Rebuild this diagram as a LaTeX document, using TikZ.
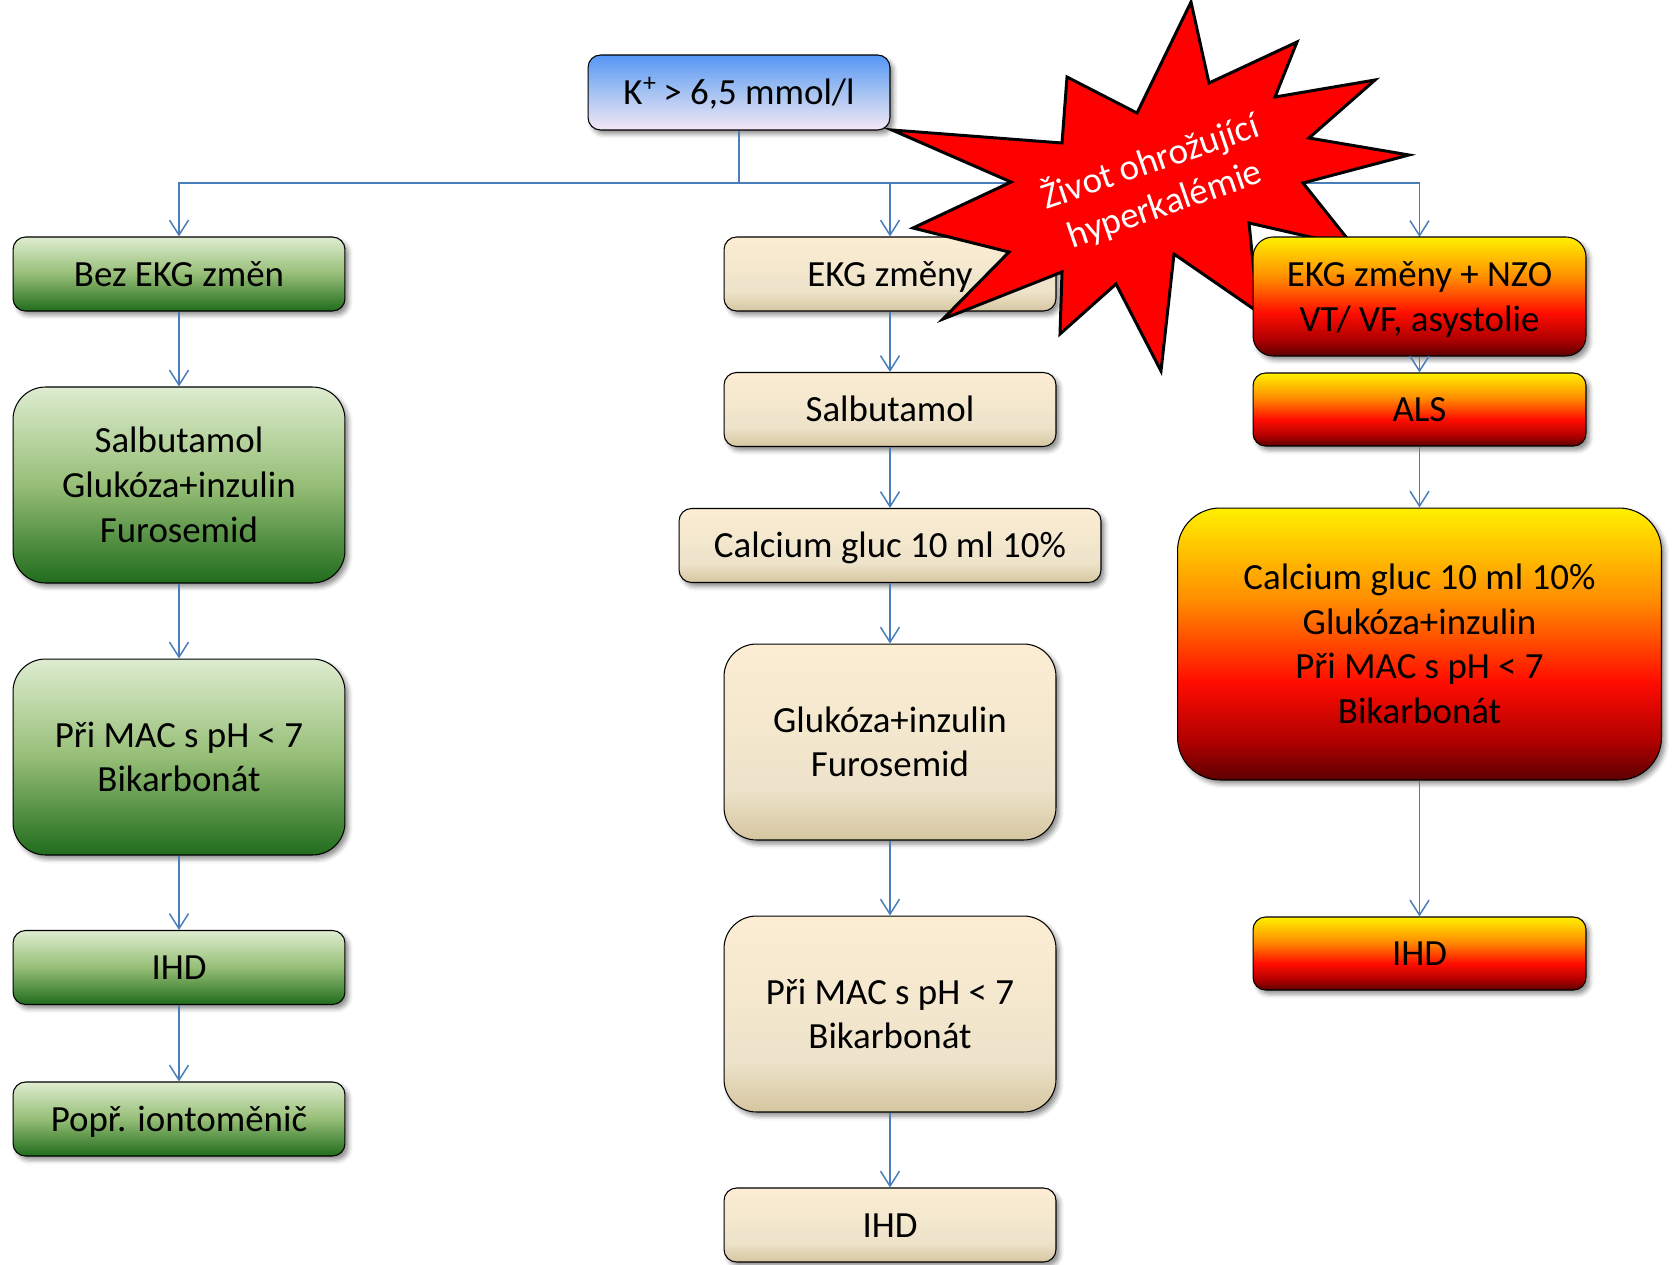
\documentclass[tikz,border=0pt]{standalone}
\usepackage{fontspec}
\setmainfont{Carlito}
\usetikzlibrary{arrows.meta,shadows.blur}

% colours
\definecolor{link}{RGB}{74,126,187}
\definecolor{g0}{RGB}{32,108,28}
\definecolor{g1}{RGB}{150,190,118}
\definecolor{g2}{RGB}{222,236,208}
\definecolor{b0}{RGB}{213,198,160}
\definecolor{b1}{RGB}{237,227,202}
\definecolor{b2}{RGB}{252,237,211}
\definecolor{u0}{RGB}{245,231,246}
\definecolor{u1}{RGB}{165,195,242}
\definecolor{u2}{RGB}{86,150,245}
\definecolor{f0}{RGB}{92,0,0}
\definecolor{f1}{RGB}{175,0,0}
\definecolor{f2}{RGB}{255,12,0}
\definecolor{f3}{RGB}{255,140,0}
\definecolor{f4}{RGB}{255,240,0}
\definecolor{starred}{RGB}{255,0,0}

% vertical fills (bottom = 25bp, top = 75bp)
\pgfdeclareverticalshading{greenfill}{100bp}{color(0bp)=(g0); color(25bp)=(g0); color(50bp)=(g1); color(75bp)=(g2); color(100bp)=(g2)}
\pgfdeclareverticalshading{beigefill}{100bp}{color(0bp)=(b0); color(25bp)=(b0); color(38bp)=(b1); color(75bp)=(b2); color(100bp)=(b2)}
\pgfdeclareverticalshading{bluefill}{100bp}{color(0bp)=(u0); color(25bp)=(u0); color(50bp)=(u1); color(75bp)=(u2); color(100bp)=(u2)}
\pgfdeclareverticalshading{firefill}{100bp}{color(0bp)=(f0); color(25bp)=(f0); color(32bp)=(f1); color(43bp)=(f2); color(58bp)=(f3); color(75bp)=(f4); color(100bp)=(f4)}

% every text line gets the same height and depth, so that lines sit
% slightly below the geometric middle of their box
\newcommand\lstrut{\rule[-5pt]{0pt}{24.2pt}}
\newcommand\tline[1]{\lstrut#1}

\begin{document}
\begin{tikzpicture}[x=0.02cm, y=-0.02cm,
  box/.style={draw=black, line width=0.6pt, inner sep=0pt, align=center,
    font=\fontsize{21}{25.5}\selectfont,
    blur shadow={shadow xshift=0.07cm, shadow yshift=-0.08cm, shadow blur radius=0.09cm, shadow opacity=45}},
  short/.style={minimum height=1.48cm, rounded corners=0.25cm},
  tall/.style={minimum height=3.92cm, rounded corners=0.65cm},
  gbox/.style={box, shading=greenfill, minimum width=6.64cm},
  bbox/.style={box, shading=beigefill},
  fbox/.style={box, shading=firefill},
  link/.style={draw=link, line width=0.85pt},
  flow/.style={link, -{Straight Barb[length=0.3cm, width=0.38cm, line width=0.85pt]}},
  starshape/.style={fill=starred, draw=black, line width=1.7pt, line join=miter}
]
\useasboundingbox (0,0) rectangle (1672,1264);

% root
\node[box, shading=bluefill, minimum width=6.04cm, minimum height=1.5cm, rounded corners=0.25cm]
  (top) at (739,92.5) {\tline{K\kern0.02em\textsuperscript{+}\kern-0.05em\ > 6,5 mmol/l}};

% left column
\node[gbox, short] (bez)  at (179,274)   {\tline{Bez EKG změn}};
\node[gbox, tall]  (sal1) at (179,485)   {\tline{Salbutamol}\\\tline{Glukóza+inzulin}\\\tline{Furosemid}};
\node[gbox, tall]  (mac1) at (179,757)   {\tline{Při MAC s pH < 7}\\\tline{Bikarbonát}};
\node[gbox, short] (ihd1) at (179,967.5) {\tline{IHD}};
\node[gbox, short] (popr) at (179,1119)  {\tline{Popř. iontoměnič}};

% middle column
\node[bbox, short, minimum width=6.64cm] (ekg)   at (890,274)    {\tline{EKG změny}};
\node[bbox, short, minimum width=6.64cm] (sal2)  at (890,409.5)  {\tline{Salbutamol}};
\node[bbox, short, minimum width=8.44cm] (calc2) at (890,545.5)  {\tline{Calcium gluc 10 ml 10\%}};
\node[bbox, tall,  minimum width=6.64cm] (glu2)  at (890,742)    {\tline{Glukóza+inzulin}\\\tline{Furosemid}};
\node[bbox, tall,  minimum width=6.64cm] (mac2)  at (890,1014)   {\tline{Při MAC s pH < 7}\\\tline{Bikarbonát}};
\node[bbox, short, minimum width=6.64cm] (ihd2)  at (890,1225)   {\tline{IHD}};

% distribution from the root
\coordinate (bus) at (739,183);
\draw[link] (top.south) -- (bus);
\draw[flow] (bus) -| (bez.north);
\draw[flow] (bus) -| (ekg.north);
\draw[flow] (bus) -| (1419.5,237);

% left and middle chains
\draw[flow] (bez.south)  -- (sal1.north);
\draw[flow] (sal1.south) -- (mac1.north);
\draw[flow] (mac1.south) -- (ihd1.north);
\draw[flow] (ihd1.south) -- (popr.north);
\draw[flow] (ekg.south)   -- (sal2.north);
\draw[flow] (sal2.south)  -- (calc2.north);
\draw[flow] (calc2.south) -- (glu2.north);
\draw[flow] (glu2.south)  -- (mac2.north);
\draw[flow] (mac2.south)  -- (ihd2.north);

% warning burst
\draw[starshape] (1191,2) -- (1209,83) -- (1297,42) -- (1275,97) -- (1375,80)
  -- (1309,138) -- (1409,155) -- (1303,183) -- (1354,247) -- (1249,223)
  -- (1258,312) -- (1174,254) -- (1161,371) -- (1116,284) -- (1060,334)
  -- (1062,272) -- (943,319) -- (1009,252) -- (913,228) -- (1011,182)
  -- (892,130) -- (1062,143) -- (1067,77) -- (1137,113) -- cycle;
\node[rotate=19, text=white, align=center, inner sep=0pt,
  font=\fontsize{21}{25.5}\selectfont] (alert) at (1157,182)
  {\tline{Život ohrožující}\\\tline{hyperkalémie}};

% right column
\node[fbox, minimum width=6.66cm, minimum height=2.38cm, rounded corners=0.4cm]
  (nzo) at (1419.5,296.5) {\tline{EKG změny + NZO}\\\tline{VT/ VF, asystolie}};
\node[fbox, short, minimum width=6.66cm, minimum height=1.46cm] (als) at (1419.5,409.5) {\tline{ALS}};
\node[fbox, minimum width=9.68cm, minimum height=5.44cm, rounded corners=0.85cm]
  (calc3) at (1419.5,644) {\tline{Calcium gluc 10 ml 10\%}\\\tline{Glukóza+inzulin}\\\tline{Při MAC s pH < 7}\\\tline{Bikarbonát}};
\node[fbox, short, minimum width=6.66cm, minimum height=1.46cm] (ihd3) at (1419.5,953.5) {\tline{IHD}};

\draw[flow] (nzo.south)   -- (als.north);
\draw[flow] (als.south)   -- (calc3.north);
\draw[flow] (calc3.south) -- (ihd3.north);
\end{tikzpicture}
\end{document}
